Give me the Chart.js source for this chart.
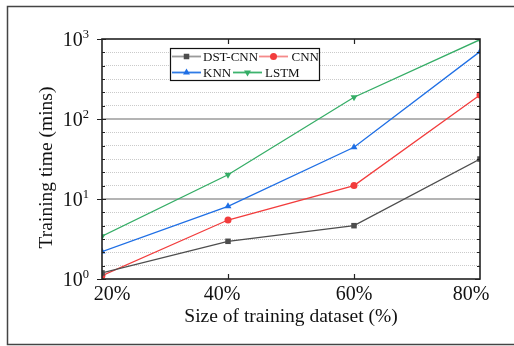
<!DOCTYPE html>
<html>
<head>
<meta charset="utf-8">
<script src="https://cdn.jsdelivr.net/npm/chart.js@4.4.1/dist/chart.umd.min.js"></script>
<style>
  html, body { margin: 0; padding: 0; background: #fff; }
  #wrap { width: 514px; height: 346px; position: relative; }
</style>
</head>
<body>
<div id="wrap"><canvas id="c"></canvas></div>
<script>
// Training time per model vs. share of the training dataset
const categories = ['20%', '40%', '60%', '80%'];
const dstCnn = [1.19, 2.96, 4.64, 31.6];
const cnn = [1.1, 5.46, 14.7, 200];
const knn = [2.2, 8.1, 44.3, 695];
const lstm = [3.42, 20.1, 187, 980];
const seriesNames = ['DST-CNN', 'CNN', 'KNN', 'LSTM'];
const yTickExponents = [0, 1, 2, 3];
const xTitle = 'Size of training dataset (%)';
const yTitle = 'Training time (mins)';

const SERIF = '"Liberation Serif", "Times New Roman", serif';
const lineColors = ['#4d4d4d', '#f23c3c', '#1f6fe5', '#35ad66'];
const legendLineColors = ['#9a9a9a', '#f58a8a', '#2f7be6', '#3db36e'];
const pointStyles = ['rect', 'circle', 'triangle', 'triangle'];
const pointRotations = [0, 0, 0, 180];
const pointRadii = [3.9, 3.5, 4, 4];
const seriesValues = [dstCnn, cnn, knn, lstm];

// six grid steps per decade, evenly spaced on the log axis
const STEPS = 6;
const stepOf = v => Math.round(Math.log10(v) * STEPS);

const datasets = seriesValues.map((vals, i) => ({
  label: seriesNames[i],
  data: vals,
  borderColor: lineColors[i],
  backgroundColor: lineColors[i],
  borderWidth: 1.3,
  pointStyle: pointStyles[i],
  pointRotation: pointRotations[i],
  pointRadius: pointRadii[i],
  pointBorderWidth: 0,
  tension: 0,
  clip: 0
}));

const decorations = {
  id: 'decorations',
  afterDatasetsDraw(chart) {
    const { ctx, chartArea: a, scales: { x, y } } = chart;
    ctx.save();

    // outer frame
    ctx.strokeStyle = '#444';
    ctx.lineWidth = 1.5;
    ctx.beginPath();
    ctx.moveTo(600, 6.5); ctx.lineTo(7.5, 6.5); ctx.lineTo(7.5, 344.5); ctx.lineTo(600, 344.5);
    ctx.stroke();

    // plot box
    ctx.strokeStyle = '#222';
    ctx.lineWidth = 1.6;
    ctx.strokeRect(a.left, a.top, a.right - a.left, a.bottom - a.top);

    // y tick marks
    ctx.lineWidth = 1.2;
    for (let k = 0; k <= 3 * STEPS; k++) {
      const py = Math.round(y.getPixelForValue(Math.pow(10, k / STEPS))) + 0.5;
      const major = k % STEPS === 0;
      ctx.beginPath();
      if (major) {
        ctx.moveTo(a.left - 5, py); ctx.lineTo(a.left + 4, py);
        ctx.moveTo(a.right - 5, py); ctx.lineTo(a.right, py);
      } else {
        ctx.moveTo(a.left, py); ctx.lineTo(a.left + 3, py);
        ctx.moveTo(a.right - 3, py); ctx.lineTo(a.right, py);
      }
      ctx.stroke();
    }
    // x tick marks
    for (let i = 1; i < categories.length - 1; i++) {
      const px = Math.round(x.getPixelForValue(i)) + 0.5;
      ctx.beginPath();
      ctx.moveTo(px, a.top); ctx.lineTo(px, a.top + 5);
      ctx.moveTo(px, a.bottom); ctx.lineTo(px, a.bottom - 5);
      ctx.stroke();
    }

    // y tick labels: 10 with superscript exponent
    ctx.fillStyle = '#111';
    ctx.textBaseline = 'alphabetic';
    yTickExponents.forEach(e => {
      const py = y.getPixelForValue(Math.pow(10, e));
      ctx.font = '12.5px ' + SERIF;
      const supW = ctx.measureText(String(e)).width;
      ctx.textAlign = 'left';
      ctx.fillText(String(e), a.left - 13 - supW, py - 1);
      ctx.font = '20px ' + SERIF;
      ctx.textAlign = 'right';
      ctx.fillText('10', a.left - 13 - supW, py + 6.5);
    });

    // x tick labels
    const nudge = [10, -6, 0, -9];
    ctx.font = '20px ' + SERIF;
    ctx.textAlign = 'center';
    categories.forEach((c, i) => {
      ctx.fillText(c, x.getPixelForValue(i) + nudge[i], 300);
    });

    // axis titles
    ctx.font = '19.5px ' + SERIF;
    ctx.fillText(xTitle, (a.left + a.right) / 2, 322);
    ctx.save();
    ctx.translate(52, 167.5);
    ctx.rotate(-Math.PI / 2);
    ctx.fillText(yTitle, 0, 0);
    ctx.restore();

    // legend
    const box = { l: 170.5, t: 48.5, r: 319.5, b: 80.5 };
    ctx.fillStyle = '#fff';
    ctx.fillRect(box.l, box.t, box.r - box.l, box.b - box.t);
    ctx.strokeStyle = '#111';
    ctx.lineWidth = 1.2;
    ctx.strokeRect(box.l, box.t, box.r - box.l, box.b - box.t);
    const slots = [
      { x0: 172, x1: 201, tx: 203, y: 56.5 },
      { x0: 259, x1: 288, tx: 291.5, y: 56.5 },
      { x0: 172, x1: 201, tx: 203, y: 72.5 },
      { x0: 233, x1: 262, tx: 265, y: 72.5 }
    ];
    ctx.font = '13px ' + SERIF;
    ctx.textAlign = 'left';
    ctx.textBaseline = 'middle';
    slots.forEach((s, i) => {
      ctx.strokeStyle = legendLineColors[i];
      ctx.lineWidth = 1.8;
      ctx.beginPath(); ctx.moveTo(s.x0, s.y); ctx.lineTo(s.x1, s.y); ctx.stroke();
      ctx.fillStyle = lineColors[i];
      Chart.helpers.drawPoint(ctx, {
        pointStyle: pointStyles[i], rotation: pointRotations[i],
        radius: pointRadii[i], borderWidth: 0
      }, (s.x0 + s.x1) / 2, s.y);
      ctx.fillStyle = '#111';
      ctx.fillText(seriesNames[i], s.tx, s.y + 1);
    });

    ctx.restore();
  }
};

new Chart(document.getElementById('c'), {
  type: 'line',
  data: { labels: categories, datasets },
  options: {
    responsive: true,
    maintainAspectRatio: false,
    animation: false,
    events: [],
    layout: { padding: { left: 102, top: 39, right: 34, bottom: 67 } },
    plugins: { legend: { display: false }, tooltip: { enabled: false } },
    scales: {
      x: {
        type: 'category',
        offset: false,
        display: false
      },
      y: {
        type: 'logarithmic',
        min: 1,
        max: 1000,
        afterBuildTicks(scale) {
          const t = [];
          for (let k = 0; k <= 3 * STEPS; k++) t.push({ value: Math.pow(10, k / STEPS) });
          scale.ticks = t;
        },
        afterFit(scale) { scale.width = 0; },
        ticks: { display: false },
        title: { display: false },
        border: {
          display: false,
          dash: ctx => (ctx.tick && stepOf(ctx.tick.value) % STEPS !== 0) ? [1, 1] : []
        },
        grid: {
          drawTicks: false,
          color: ctx => {
            if (!ctx.tick) return 'rgba(0,0,0,0)';
            const k = stepOf(ctx.tick.value);
            if (k % (3 * STEPS) === 0) return 'rgba(0,0,0,0)';
            return k % STEPS === 0 ? '#b4b4b4' : '#cacaca';
          },
          lineWidth: ctx => (ctx.tick && stepOf(ctx.tick.value) % STEPS === 0) ? 2 : 1
        }
      }
    }
  },
  plugins: [decorations]
});
</script>
</body>
</html>
